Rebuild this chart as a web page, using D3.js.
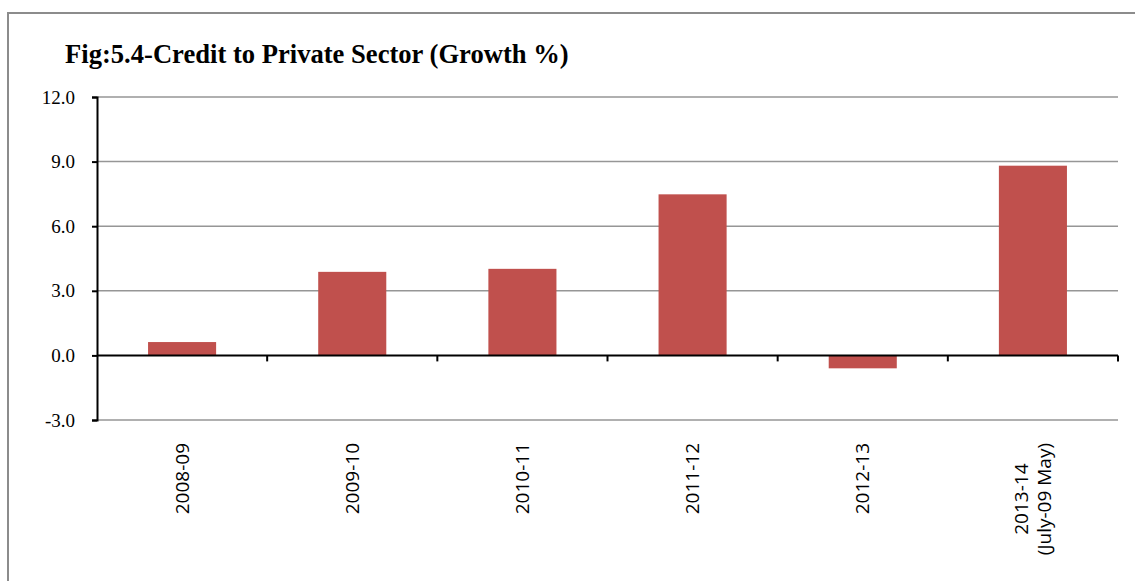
<!DOCTYPE html>
<html>
<head>
<meta charset="utf-8">
<script src="https://cdn.jsdelivr.net/npm/d3@7/dist/d3.min.js"></script>
<style>
  body { margin: 0; background: #fff; }
</style>
</head>
<body>
<svg id="chart"></svg>
<script>
const categories = ['2008-09', '2009-10', '2010-11', '2011-12', '2012-13', '2013-14\n(July-09 May)'];
const growth = [0.62, 3.88, 4.02, 7.48, -0.6, 8.81];
const yTicks = [-3, 0, 3, 6, 9, 12];
const title = 'Fig:5.4-Credit to Private Sector (Growth %)';

const width = 1135;
const height = 581;
const margin = { top: 97, right: 17, bottom: 161, left: 97 };
const innerWidth = width - margin.left - margin.right;
const innerHeight = height - margin.top - margin.bottom;

const svg = d3.select('#chart')
  .attr('width', width)
  .attr('height', height);

// outer frame: only the left and top edges are inside the picture
svg.append('path')
  .attr('d', `M8,${height} L8,13 L${width},13`)
  .attr('fill', 'none')
  .attr('stroke', '#8c8c8c')
  .attr('stroke-width', 2);

svg.append('text')
  .attr('x', 65)
  .attr('y', 63)
  .style('font-family', '"Liberation Serif", "Times New Roman", serif')
  .style('font-weight', 'bold')
  .style('font-size', '26.6px')
  .text(title);

const x = d3.scaleBand()
  .domain(categories)
  .range([0, innerWidth])
  .paddingInner(0.6)
  .paddingOuter(0.3);

const y = d3.scaleLinear()
  .domain([-3, 12])
  .range([innerHeight, 0]);

const g = svg.append('g')
  .attr('transform', `translate(${margin.left},${margin.top})`);

// gridlines
g.append('g')
  .selectAll('line')
  .data(yTicks.filter(d => d !== 0))
  .join('line')
  .attr('x1', 0)
  .attr('x2', innerWidth)
  .attr('y1', d => y(d))
  .attr('y2', d => y(d))
  .attr('stroke', '#969696')
  .attr('stroke-width', 1.5);

// bars
g.selectAll('rect.bar')
  .data(growth)
  .join('rect')
  .attr('class', 'bar')
  .attr('x', (d, i) => x(categories[i]))
  .attr('width', x.bandwidth())
  .attr('y', d => y(Math.max(0, d)))
  .attr('height', d => Math.abs(y(d) - y(0)))
  .attr('fill', '#c0504d');

// y axis (hyphen minus, like the original)
const yAxis = g.append('g')
  .call(d3.axisLeft(y)
    .tickValues(yTicks)
    .tickFormat(d => d.toFixed(1))
    .tickSize(5)
    .tickPadding(17));
yAxis.select('.domain')
  .attr('stroke', '#000')
  .attr('stroke-width', 2);
yAxis.selectAll('.tick line')
  .attr('stroke', '#000')
  .attr('stroke-width', 2);
yAxis.selectAll('.tick text')
  .style('font-family', '"Liberation Serif", "Times New Roman", serif')
  .style('font-size', '19px')
  .attr('fill', '#000');

// zero axis with category boundary ticks
const gap = (x.step() - x.bandwidth()) / 2;
const edges = categories.map(c => x(c) - gap).concat([x(categories[categories.length - 1]) + x.bandwidth() + gap]);

const xAxis = g.append('g');
xAxis.append('line')
  .attr('x1', 0)
  .attr('x2', innerWidth)
  .attr('y1', y(0))
  .attr('y2', y(0))
  .attr('stroke', '#000')
  .attr('stroke-width', 2);
xAxis.selectAll('line.tick')
  .data(edges.slice(1))
  .join('line')
  .attr('class', 'tick')
  .attr('x1', d => d)
  .attr('x2', d => d)
  .attr('y1', y(0))
  .attr('y2', y(0) + 6)
  .attr('stroke', '#000')
  .attr('stroke-width', 2);

// category labels, rotated
const labelTop = innerHeight + 23;
const labelFont = '"Open Sans", "DejaVu Sans", sans-serif';
categories.forEach((c, i) => {
  const lines = c.split('\n');
  const cx = x(c) + x.bandwidth() / 2;
  const lineGap = 23;
  const t = g.append('text')
    .attr('transform', `translate(${cx},${labelTop}) rotate(-90)`)
    .style('font-family', labelFont)
    .style('font-size', '19px')
    .attr('fill', '#000');
  if (lines.length === 1) {
    t.attr('text-anchor', 'end')
      .attr('dy', '0.35em')
      .text(c);
  } else {
    lines.forEach((l, j) => {
      t.append('tspan')
        .attr('x', 0)
        .attr('y', (j - (lines.length - 1) / 2) * lineGap)
        .attr('dy', '0.35em')
        .text(l);
    });
    const longest = d3.max(t.selectAll('tspan').nodes(), n => n.getComputedTextLength());
    t.attr('text-anchor', 'middle')
      .attr('transform', `translate(${cx},${labelTop + longest / 2}) rotate(-90)`);
  }
});
</script>
</body>
</html>
